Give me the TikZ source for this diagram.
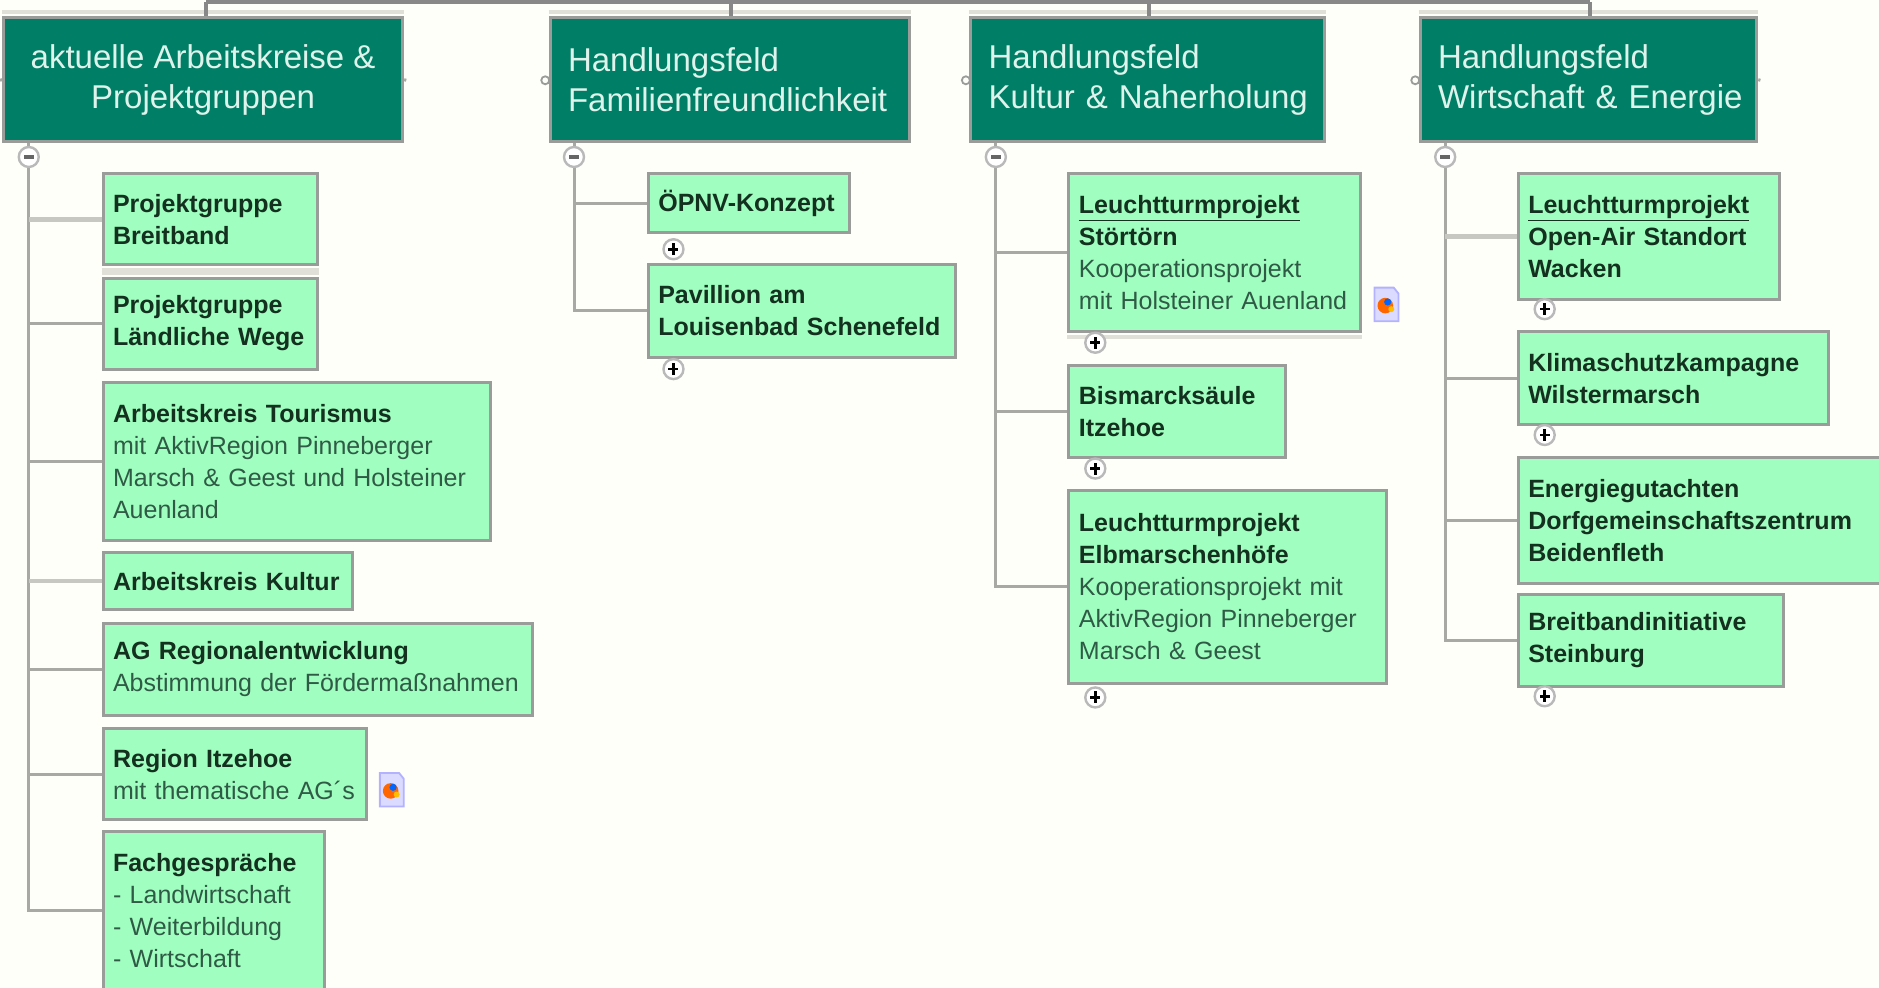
\documentclass[tikz,border=0pt]{standalone}
\usepackage{fontspec}
\setmainfont{Liberation Sans}
\definecolor{bgc}{HTML}{FFFFFA}
\definecolor{headc}{HTML}{007F66}
\definecolor{leafc}{HTML}{A0FFC0}
\definecolor{edgec}{HTML}{999C98}
\definecolor{connc}{HTML}{A8A8A4}
\definecolor{paleconn}{HTML}{C8C8C2}
\definecolor{bandc}{HTML}{E0E0D8}
\definecolor{topc}{HTML}{888888}
\definecolor{inkb}{HTML}{14301F}
\definecolor{inkn}{HTML}{2F5A45}
\definecolor{headt}{HTML}{DDF3EC}
\tikzset{
  headbox/.style={draw=edgec,line width=3pt,fill=headc,text=headt,inner xsep=18pt,inner ysep=0pt,font=\fontsize{33}{40}\selectfont},
  leaf/.style={draw=edgec,line width=3pt,fill=leafc,text=inkb,inner xsep=10pt,inner ysep=0pt,align=left,font=\fontsize{25}{32}\selectfont},
  conn/.style={draw=connc,line width=3pt},
  paleline/.style={draw=paleconn,line width=4.5pt},
  band/.style={draw=bandc,line width=4pt},
  toptree/.style={draw=topc,line width=3.5pt},
  toggle/.style={circle,draw=gray!55,line width=2.4pt,fill=white,minimum size=20pt,inner sep=0pt},
  tiny/.style={circle,draw=edgec,line width=1.8pt,fill=bgc,minimum size=8pt,inner sep=0pt},
}
\newcommand{\hd}[7][align=left]{%
  \pgfmathsetlengthmacro{\bw}{(#5-#3)*1.1983pt}%
  \pgfmathsetlengthmacro{\bh}{(#6-#4)*1.1983pt}%
  \node[headbox,#1,minimum width=\bw,minimum height=\bh] (#2) at ({(#3+#5)/2},{(#4+#6)/2}) {#7};}
\newcommand{\hl}[6]{%
  \pgfmathsetlengthmacro{\bw}{(#4-#2)*1.1983pt}%
  \pgfmathsetlengthmacro{\bh}{(#5-#3)*1.1983pt}%
  \pgfmathsetlengthmacro{\tw}{\bw-36pt}%
  \node[headbox,minimum width=\bw,minimum height=\bh,text width=\tw,align=left] (#1) at ({(#2+#4)/2},{(#3+#5)/2}) {#6};}
\newcommand{\bx}[6]{%
  \pgfmathsetlengthmacro{\bw}{(#4-#2)*1.1983pt}%
  \pgfmathsetlengthmacro{\bh}{(#5-#3)*1.1983pt}%
  \pgfmathsetlengthmacro{\tw}{\bw-20pt}%
  \node[leaf,minimum width=\bw,minimum height=\bh,text width=\tw] (#1) at ({(#2+#4)/2},{(#3+#5)/2}) {#6};}
\newcommand{\minustog}[3]{\node[toggle] (#1) at (#2,#3) {};
  \fill[gray!80!black] ([xshift=-5pt,yshift=-2pt]#1.center) rectangle ([xshift=5pt,yshift=2pt]#1.center);}
\newcommand{\plustog}[3]{\node[toggle] (#1) at (#2,#3) {};
  \fill[black] ([xshift=-5pt,yshift=-1.3pt]#1.center) rectangle ([xshift=5pt,yshift=1.3pt]#1.center);
  \fill[black] ([xshift=-1.3pt,yshift=-6pt]#1.center) rectangle ([xshift=1.3pt,yshift=6pt]#1.center);}
\newcommand{\docicon}[2]{\begin{scope}[shift={(#1,#2)}]
  \fill[fill=blue!14!white,draw=blue!30!white,line width=1.8pt] (-10,-14) -- (6,-14) -- (10,-9) -- (10,14) -- (-10,14) -- cycle;
  \fill[orange!80!red] (-1,1) circle (6.5);
  \fill[blue!60!cyan] (1,-2) circle (3);
  \fill[orange!50!yellow] (4,4) circle (2.5);
\end{scope}}
\begin{document}
\begin{tikzpicture}[x=1.1983pt,y=-1.1983pt]
\useasboundingbox (0,0) rectangle (1568,823.7);
\clip (0,0) rectangle (1568,823.7);
\fill[bgc] (0,0) rectangle (1568,823.7);

% headers
\hd[align=center]{ha}{3}{15}{336}{118}{aktuelle Arbeitskreise \&\\Projektgruppen}
\hl{hb}{459}{15}{759}{118}{\mbox{Handlungsfeld}\\\mbox{Familienfreundlichkeit}}
\hl{hc}{810}{15}{1105}{118}{\mbox{Handlungsfeld}\\\mbox{Kultur \& Naherholung}}
\hl{hd}{1185}{15}{1466}{118}{\mbox{Handlungsfeld}\\\mbox{Wirtschaft \& Energie}}

% pale bands above the headers
\draw[band] ([yshift=4pt]ha.north west) -- ([yshift=4pt]ha.north east);
\draw[band] ([yshift=4pt]hb.north west) -- ([yshift=4pt]hb.north east);
\draw[band] ([yshift=4pt]hc.north west) -- ([yshift=4pt]hc.north east);
\draw[band] ([yshift=4pt]hd.north west) -- ([yshift=4pt]hd.north east);

% top tree
\coordinate (ta) at (172,1.5);
\coordinate (tb) at (610,1.5);
\coordinate (tc) at (959,1.5);
\coordinate (td) at (1327,1.5);
\draw[toptree] (ta) -- (td);
\draw[toptree] (ta) -- (ta |- ha.north);
\draw[toptree] (tb) -- (tb |- hb.north);
\draw[toptree] (tc) -- (tc |- hc.north);
\draw[toptree] (td) -- (td |- hd.north);

% small side connectors
\coordinate (ea) at (339,67);
\coordinate (ed) at (1469,67);
\coordinate (wa) at (0,67);
\draw[conn] (ha.east) -- (ea);
\draw[conn] (hd.east) -- (ed);
\draw[conn] (wa) -- (ha.west);
\node[tiny] (cb) at (455,67) {};
\node[tiny] (cc) at (806,67) {};
\node[tiny] (cd) at (1181,67) {};

% leaves, column 1
\bx{a1}{86}{145}{265}{221}{\textbf{Projektgruppe}\\\textbf{Breitband}}
\bx{a2}{86}{232}{265}{308}{\textbf{Projektgruppe}\\\textbf{Ländliche Wege}}
\bx{a3}{86}{319}{409}{451}{\textbf{Arbeitskreis Tourismus}\\\textcolor{inkn}{mit AktivRegion Pinneberger}\\\textcolor{inkn}{Marsch \& Geest und Holsteiner}\\\textcolor{inkn}{Auenland}}
\bx{a4}{86}{461}{294}{509}{\textbf{Arbeitskreis Kultur}}
\bx{a5}{86}{520}{444}{597}{\textbf{AG Regionalentwicklung}\\\textcolor{inkn}{Abstimmung der Fördermaßnahmen}}
\bx{a6}{86}{608}{306}{684}{\textbf{Region Itzehoe}\\\textcolor{inkn}{mit thematische AG´s}}
\bx{a7}{86}{694}{271}{826}{\textbf{Fachgespräche}\\\textcolor{inkn}{- Landwirtschaft}\\\textcolor{inkn}{- Weiterbildung}\\\textcolor{inkn}{- Wirtschaft}}
\docicon{327}{659}

% column 2
\bx{b1}{541}{145}{709}{194}{\textbf{ÖPNV-Konzept}}
\bx{b2}{541}{221}{797}{298}{\textbf{Pavillion am}\\\textbf{Louisenbad Schenefeld}}

% column 3
\bx{c1}{892}{145}{1135}{277}{\underline{\textbf{Leuchtturmprojekt}}\\\textbf{Störtörn}\\\textcolor{inkn}{Kooperationsprojekt}\\\textcolor{inkn}{mit Holsteiner Auenland}}
\bx{c2}{892}{305}{1073}{382}{\textbf{Bismarcksäule}\\\textbf{Itzehoe}}
\bx{c3}{892}{409}{1157}{570}{\textbf{Leuchtturmprojekt}\\\textbf{Elbmarschenhöfe}\\\textcolor{inkn}{Kooperationsprojekt mit}\\\textcolor{inkn}{AktivRegion Pinneberger}\\\textcolor{inkn}{Marsch \& Geest}}
\docicon{1157}{254}

% column 4
\bx{d1}{1267}{145}{1485}{250}{\underline{\textbf{Leuchtturmprojekt}}\\\textbf{Open-Air Standort}\\\textbf{Wacken}}
\bx{d2}{1267}{277}{1526}{354}{\textbf{Klimaschutzkampagne}\\\textbf{Wilstermarsch}}
\bx{d3}{1267}{382}{1580}{487}{\textbf{Energiegutachten}\\\textbf{Dorfgemeinschaftszentrum}\\\textbf{Beidenfleth}}
\bx{d4}{1267}{496}{1488}{573}{\textbf{Breitbandinitiative}\\\textbf{Steinburg}}

% pale bands under some leaves
\draw[band] ([yshift=-4pt]a1.south west) -- ([yshift=-4pt]a1.south east);
\draw[band] ([yshift=-4pt]c1.south west) -- ([yshift=-4pt]c1.south east);
\draw[band] ([yshift=4pt]a2.north west) -- ([yshift=4pt]a2.north east);

% toggles
\minustog{ma}{24}{131}
\minustog{mb}{479}{131}
\minustog{mc}{831}{131}
\minustog{md}{1206}{131}
\plustog{pb1}{562}{208}
\plustog{pb2}{562}{308}
\plustog{pc1}{914}{286}
\plustog{pc2}{914}{391}
\plustog{pc3}{914}{582}
\plustog{pd1}{1289}{258}
\plustog{pd2}{1289}{363}
\plustog{pd4}{1289}{581}

% trunks
\draw[conn] (ma.north |- ha.south) -- (ma.north);
\draw[conn] (mb.north |- hb.south) -- (mb.north);
\draw[conn] (mc.north |- hc.south) -- (mc.north);
\draw[conn] (md.north |- hd.south) -- (md.north);
\draw[conn] (ma.south) -- (ma.south |- a7.west) -- (a7.west);
\foreach \n in {a2,a3,a5,a6} \draw[conn] (ma.south |- \n.west) -- (\n.west);
\foreach \n in {a1,a4} \draw[paleline] (ma.south |- \n.west) -- (\n.west);
\draw[conn] (mb.south) -- (mb.south |- b2.west) -- (b2.west);
\draw[conn] (mb.south |- b1.west) -- (b1.west);
\draw[conn] (mc.south) -- (mc.south |- c3.west) -- (c3.west);
\foreach \n in {c1,c2} \draw[conn] (mc.south |- \n.west) -- (\n.west);
\draw[conn] (md.south) -- (md.south |- d4.west) -- (d4.west);
\foreach \n in {d2,d3} \draw[conn] (md.south |- \n.west) -- (\n.west);
\draw[paleline] (md.south |- d1.west) -- (d1.west);
\end{tikzpicture}
\end{document}
